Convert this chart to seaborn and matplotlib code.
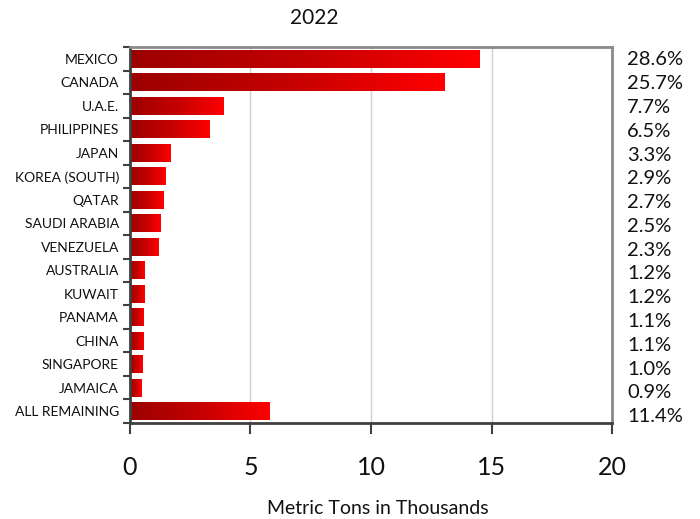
import numpy as np
import matplotlib
matplotlib.use("Agg")
import matplotlib.pyplot as plt
from matplotlib.colors import LinearSegmentedColormap
import seaborn as sns

# --- data ---
countries = ["MEXICO", "CANADA", "U.A.E.", "PHILIPPINES", "JAPAN", "KOREA (SOUTH)",
             "QATAR", "SAUDI ARABIA", "VENEZUELA", "AUSTRALIA", "KUWAIT", "PANAMA",
             "CHINA", "SINGAPORE", "JAMAICA", "ALL REMAINING"]
tons_k = [14.5, 13.05, 3.9, 3.3, 1.68, 1.47, 1.37, 1.27, 1.17, 0.61, 0.61, 0.56,
          0.56, 0.51, 0.46, 5.8]
shares = ["28.6%", "25.7%", "7.7%", "6.5%", "3.3%", "2.9%", "2.7%", "2.5%", "2.3%",
          "1.2%", "1.2%", "1.1%", "1.1%", "1.0%", "0.9%", "11.4%"]
x_ticks = [0, 5, 10, 15, 20]

sns.set_theme(style="white")
plt.rcParams["font.family"] = ["Lato", "DejaVu Sans"]

fig = plt.figure(figsize=(7, 5.19), dpi=100)
ax = fig.add_axes([0.1857, 0.185, 0.6886, 0.7244])

sns.barplot(x=tons_k, y=countries, orient="h", width=0.76, ax=ax,
            color="red", saturation=1)

# gradient fill, dark red -> bright red, clipped to each bar
cmap = LinearSegmentedColormap.from_list("red_grad", ["#9c0000", "#c40000", "#ff0000"])
grad = np.linspace(0, 1, 256).reshape(1, -1)
for bar in list(ax.patches):
    x0, y0 = bar.get_x(), bar.get_y()
    w, h = bar.get_width(), bar.get_height()
    bar.set_facecolor("none")
    bar.set_edgecolor("none")
    im = ax.imshow(grad, cmap=cmap, aspect="auto", extent=[x0, x0 + w, y0 + h, y0],
                   zorder=2)
    im.set_clip_path(bar)

ax.set_xlim(0, 20)
ax.set_ylim(len(countries) - 0.5, -0.5)
ax.set_xticks(x_ticks)
ax.set_xticklabels([str(t) for t in x_ticks], fontsize=18)
ax.xaxis.grid(True, color="#d0d0d0", linewidth=1)
ax.set_axisbelow(True)
ax.set_xlabel("")
ax.set_ylabel("")

# y ticks at category boundaries, labels centred on bars
ax.set_yticks(np.arange(len(countries)))
ax.set_yticklabels(countries, fontsize=10, color="#111111")
ax.set_yticks(np.arange(len(countries) + 1) - 0.5, minor=True)
ax.tick_params(axis="y", which="major", length=0, pad=8)
ax.tick_params(axis="y", which="minor", left=True, length=5, width=1.5, color="#404040")
ax.tick_params(axis="x", which="major", bottom=True, length=8, width=1.5,
               color="#404040", pad=16, labelcolor="#111111")

for side in ["left", "bottom"]:
    ax.spines[side].set_color("#404040")
    ax.spines[side].set_linewidth(2)
for side in ["top", "right"]:
    ax.spines[side].set_color("#8a8a8a")
    ax.spines[side].set_linewidth(2)

# share labels to the right of the plot
for i, s in enumerate(shares):
    ax.text(20.62, i + 0.05 + i * 0.012, s, fontsize=14.5, va="center", ha="left",
            color="#111111", clip_on=False)

fig.text(0.449, 0.965, "2022", fontsize=15, ha="center", va="center", color="#111111")
fig.text(0.54, 0.021, "Metric Tons in Thousands", fontsize=14, ha="center",
         va="center", color="#111111")

fig.savefig("out.png", dpi=100)
